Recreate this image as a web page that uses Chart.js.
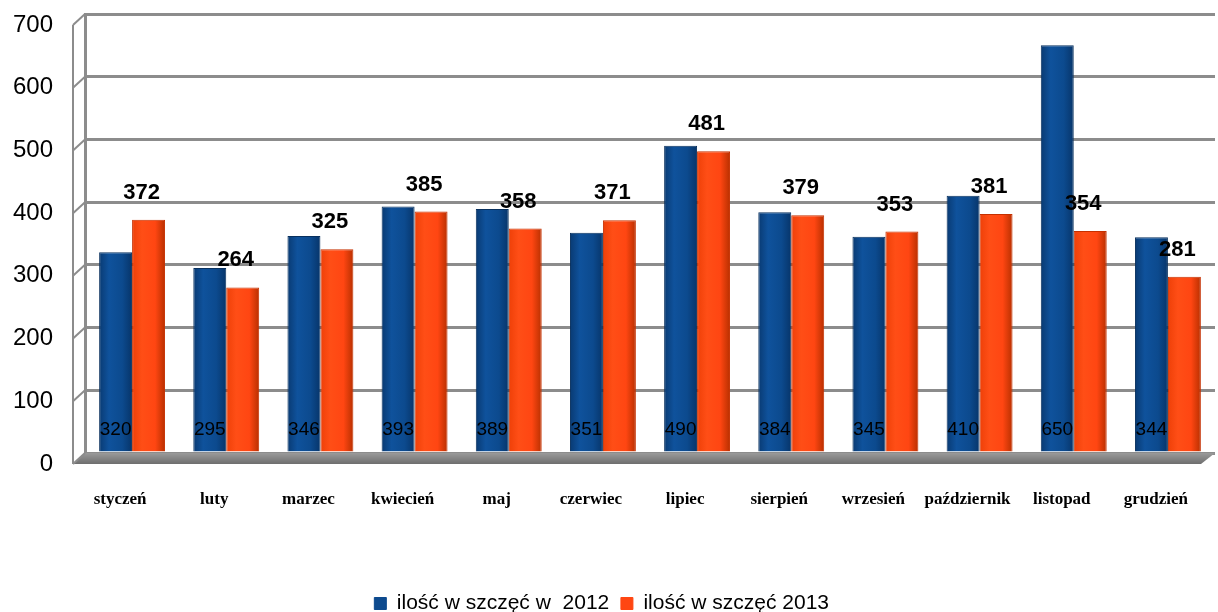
<!DOCTYPE html>
<html>
<head>
<meta charset="utf-8">
<script src="https://cdn.jsdelivr.net/npm/chart.js@4/dist/chart.umd.min.js"></script>
<style>
  html, body { margin: 0; padding: 0; background: #fff; }
  #wrap { width: 1218px; height: 612px; }
</style>
</head>
<body>
<div id="wrap"><canvas id="chart"></canvas></div>
<script>
const months = ["styczeń", "luty", "marzec", "kwiecień", "maj", "czerwiec", "lipiec", "sierpień", "wrzesień", "październik", "listopad", "grudzień"];
const values2012 = [320, 295, 346, 393, 389, 351, 490, 384, 345, 410, 650, 344];
const values2013 = [372, 264, 325, 385, 358, 371, 481, 379, 353, 381, 354, 281];
const yTicks = [0, 100, 200, 300, 400, 500, 600, 700];
const legendColors = ["#0d4a8e", "#ff4612"];

// cylinder-like shading across each bar
function shade(stops, side) {
  return c => {
    const chart = c.chart;
    const xs = chart.scales.x;
    if (!chart.chartArea || !xs || c.dataIndex === undefined) return stops[2];
    const w = xs.width / months.length * 0.7 / 2;
    const cx = xs.getPixelForValue(c.dataIndex) + side * w / 2;
    const g = chart.ctx.createLinearGradient(cx - w / 2, 0, cx + w / 2, 0);
    g.addColorStop(0, stops[0]);
    g.addColorStop(0.3, stops[1]);
    g.addColorStop(0.7, stops[2]);
    g.addColorStop(1, stops[3]);
    return g;
  };
}

// floor band under the bars and the slanted wall lines on the left
const wallPlugin = {
  id: "wall",
  beforeDatasetsDraw(chart) {
    const { ctx, chartArea: a, scales } = chart;
    ctx.save();
    const y0 = scales.y.getPixelForValue(0);
    const g = ctx.createLinearGradient(0, y0, 0, y0 + 11);
    g.addColorStop(0, "#9a9a9a");
    g.addColorStop(1, "#6e6e6e");
    ctx.fillStyle = g;
    ctx.beginPath();
    ctx.moveTo(a.left, y0);
    ctx.lineTo(a.right, y0);
    ctx.lineTo(a.right - 14, y0 + 11);
    ctx.lineTo(a.left - 12, y0 + 11);
    ctx.closePath();
    ctx.fill();
    ctx.strokeStyle = "#8c8c8c";
    ctx.lineWidth = 2;
    yTicks.forEach(v => {
      const y = scales.y.getPixelForValue(v);
      ctx.beginPath();
      ctx.moveTo(a.left, y);
      ctx.lineTo(a.left - 12, y + 11);
      ctx.stroke();
    });
    ctx.beginPath();
    ctx.moveTo(a.left - 12, scales.y.getPixelForValue(700) + 11);
    ctx.lineTo(a.left - 12, y0 + 11);
    ctx.stroke();
    ctx.restore();
  }
};

const labelPlugin = {
  id: "barLabels",
  afterDatasetsDraw(chart) {
    const { ctx, scales } = chart;
    const y0 = scales.y.getPixelForValue(0);
    ctx.save();
    ctx.fillStyle = "#000";
    ctx.textAlign = "center";
    ctx.textBaseline = "middle";
    chart.getDatasetMeta(0).data.forEach((bar, i) => {
      ctx.font = "19px 'Liberation Sans', Arial, sans-serif";
      ctx.fillText(values2012[i], bar.x, y0 - 23);
    });
    chart.getDatasetMeta(1).data.forEach((bar, i) => {
      ctx.font = "bold 22px 'Liberation Sans', Arial, sans-serif";
      ctx.fillText(values2013[i], bar.x - 7, bar.y - 27);
    });
    ctx.restore();
  }
};

new Chart(document.getElementById("chart"), {
  type: "bar",
  data: {
    labels: months,
    datasets: [{
      label: "ilość w szczęć w  2012",
      data: values2012,
      backgroundColor: shade(["#093a72", "#0f529c", "#0c4a8e", "#07356a"], -1),
      borderColor: "#08305e",
      borderWidth: 1,
      barPercentage: 1.0,
      categoryPercentage: 0.7
    }, {
      label: "ilość w szczęć 2013",
      data: values2013,
      backgroundColor: shade(["#ee4008", "#ff4e16", "#ff4612", "#b83000"], 1),
      borderColor: "#c53000",
      borderWidth: 1,
      barPercentage: 1.0,
      categoryPercentage: 0.7
    }]
  },
  options: {
    responsive: true,
    maintainAspectRatio: false,
    animation: false,
    layout: { padding: { top: 14, right: 3, left: 0, bottom: -12 } },
    plugins: {
      tooltip: { enabled: false },
      legend: {
        position: "bottom",
        labels: {
          color: "#000",
          font: { family: "'Liberation Sans', Arial, sans-serif", size: 21 },
          boxWidth: 12,
          boxHeight: 12,
          padding: 0,
          generateLabels: chart => Chart.defaults.plugins.legend.labels.generateLabels(chart).map((l, i) => {
            l.fillStyle = legendColors[i];
            l.strokeStyle = legendColors[i];
            l.text = l.text + "  ";
            return l;
          })
        }
      }
    },
    scales: {
      x: {
        grid: { display: false },
        border: { display: false },
        ticks: {
          color: "#000",
          font: { family: "'Liberation Serif', 'Times New Roman', serif", size: 17, weight: "bold" },
          padding: 28,
          labelOffset: -12,
          maxRotation: 0,
          autoSkip: false
        },
        afterFit: s => { s.height = 140; s.paddingLeft = 0; s.paddingRight = 0; }
      },
      y: {
        min: 0,
        max: 700,
        ticks: {
          stepSize: 100,
          color: "#000",
          font: { family: "'Liberation Sans', Arial, sans-serif", size: 24 },
          padding: 32,
          labelOffset: 11
        },
        grid: { color: "#8c8c8c", lineWidth: 3, drawTicks: false },
        border: { display: true, color: "#8c8c8c", width: 3 },
        afterFit: s => { s.width = 85; s.paddingTop = 0; s.paddingBottom = 0; }
      }
    }
  },
  plugins: [wallPlugin, labelPlugin]
});
</script>
</body>
</html>
